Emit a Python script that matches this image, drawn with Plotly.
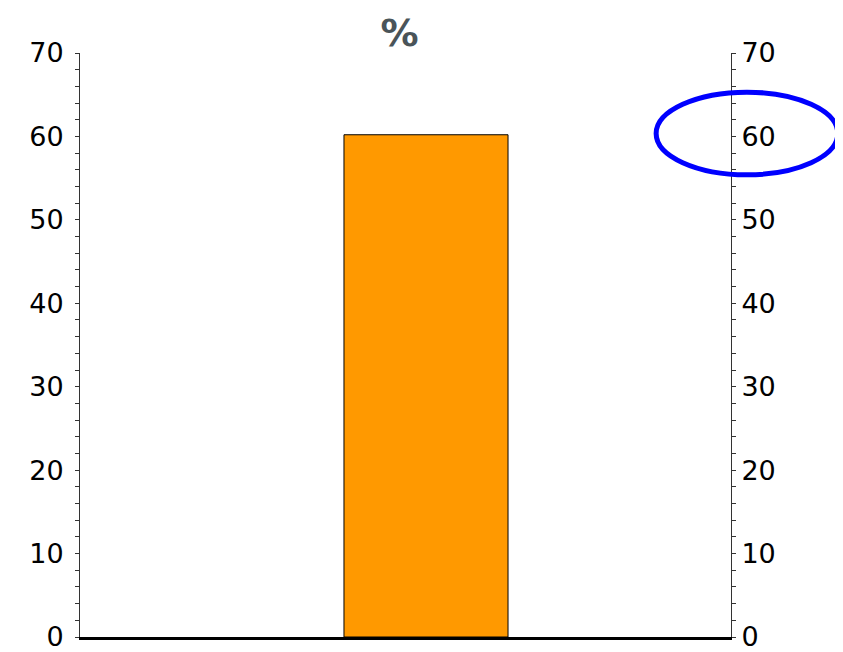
import plotly.graph_objects as go

categories = ["A"]
values = [60.2]
tick_vals = [0, 10, 20, 30, 40, 50, 60, 70]
title_text = "%"

fig = go.Figure()
fig.add_trace(go.Bar(x=categories, y=values, width=0.252,
                     marker=dict(color="#FF9900", line=dict(color="black", width=1)),
                     showlegend=False))
# invisible trace to activate second axis
fig.add_trace(go.Scatter(x=categories, y=[None], yaxis="y2", showlegend=False, hoverinfo="skip"))

axis_common = dict(range=[0, 70], tickvals=tick_vals, ticks="outside", ticklen=4,
                   tickcolor="#333", showline=True, linecolor="#333", linewidth=1,
                   showgrid=False, zeroline=False, automargin=False,
                   ticklabeloverflow="allow",
                   tickfont=dict(family="DejaVu Sans", size=27, color="black"),
                   minor=dict(dtick=2, ticks="outside", ticklen=4, tickcolor="#333"))

fig.update_layout(
    width=835, height=644,
    margin=dict(l=72, r=112, t=45, b=15, autoexpand=False),
    plot_bgcolor="white", paper_bgcolor="white",
    title=dict(text=title_text, x=0.469, xanchor="center", y=0.962, yanchor="middle",
               font=dict(family="DejaVu Sans", size=38, color="#4A5459", weight="bold")),
    xaxis=dict(range=[-0.5315, 0.4685], showticklabels=False, ticks="",
               showline=True, linecolor="black", linewidth=3, showgrid=False, zeroline=False),
    yaxis=dict(side="left", ticklabelstandoff=6, **axis_common),
    yaxis2=dict(side="right", overlaying="y", ticklabelstandoff=0, **axis_common),
    shapes=[dict(type="circle", xref="paper", yref="y", x0=0.885, x1=1.164, y0=55.4, y1=65.3,
                 line=dict(color="#0000FF", width=5))],
)

fig.write_html("out.html")
